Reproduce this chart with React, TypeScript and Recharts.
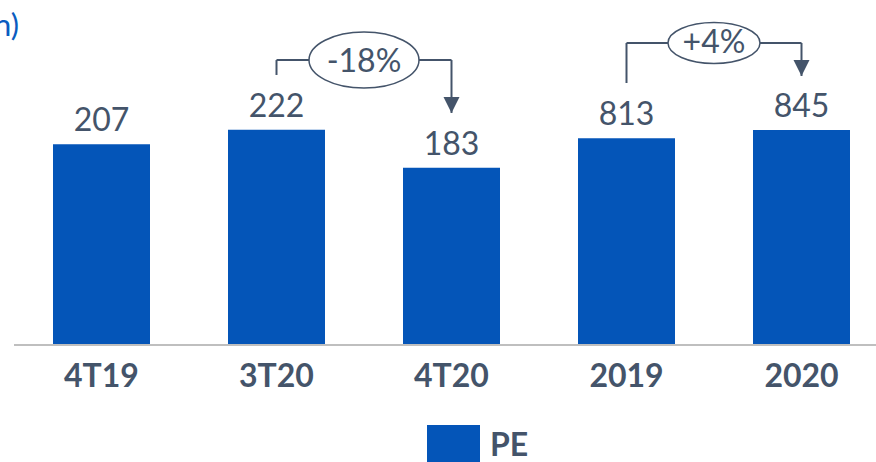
import React from 'react';
import { BarChart, Bar, XAxis, YAxis, LabelList, ReferenceLine, Legend } from 'recharts';

const categories = ['4T19', '3T20', '4T20', '2019', '2020'];
const quarterly = [207, 222, 183, null, null];
const annual = [null, null, null, 813, 845];
const changes = ['-18%', '+4%'];
const seriesName = 'PE';

const BLUE = '#0455b8';
const SLATE = '#44546a';
const FONT = 'Lato, "Open Sans", sans-serif';

const data = categories.map((c, i) => ({ cat: c, q: quarterly[i], a: annual[i] }));

const ValueLabel = (props: any) => {
  const { x, y, width, value } = props;
  if (value == null) return null;
  return (
    <text x={x + width / 2} y={y - 13} textAnchor="middle" fill={SLATE} fontSize={32} fontFamily={FONT}>
      {value}
    </text>
  );
};

// ellipse with the change text, centred on a horizontal bracket segment
const makeBubble = (text: string, rx: number, ry: number, dy: number) => (props: any) => {
  const vb = props.viewBox;
  if (!vb) return null;
  const cx = vb.x + vb.width / 2;
  const cy = vb.y;
  return (
    <g>
      <ellipse cx={cx} cy={cy} rx={rx} ry={ry} fill="#fff" stroke={SLATE} strokeWidth={1.5} />
      <text x={cx} y={cy + dy} textAnchor="middle" fill={SLATE} fontSize={32} fontFamily={FONT}>
        {text}
      </text>
    </g>
  );
};

// arrow head at the lower end of a vertical segment
const ArrowHead = (props: any) => {
  const vb = props.viewBox;
  if (!vb) return null;
  const x = vb.x;
  const y = vb.y + vb.height;
  return <path d={`M${x - 8},${y - 16} L${x + 8},${y - 16} L${x},${y} Z`} fill={SLATE} />;
};

const LegendContent = () => (
  <div style={{ display: 'flex', alignItems: 'center', height: 37, paddingLeft: 413 }}>
    <div style={{ width: 53, height: 37, background: BLUE }} />
    <span style={{ marginLeft: 10, fontFamily: FONT, fontWeight: 700, fontSize: 32, color: SLATE }}>{seriesName}</span>
  </div>
);

export default function App() {
  const line = { stroke: SLATE, strokeWidth: 2, ifOverflow: 'visible' as const };
  return (
    <div style={{ position: 'fixed', left: 0, top: 0, width: 876, height: 462, overflow: 'hidden', background: '#fff' }}>
      <div
        style={{
          position: 'absolute',
          right: 857,
          top: 5,
          whiteSpace: 'nowrap',
          fontFamily: FONT,
          fontSize: 31,
          color: '#0a5cc0',
        }}
      >
        (R$ mn)
      </div>
      <BarChart width={890} height={462} data={data} margin={{ top: 30, right: 1, left: 14, bottom: 0 }} barGap={-97}>
        <XAxis
          dataKey="cat"
          height={80}
          axisLine={{ stroke: '#bfbfbf', strokeWidth: 2 }}
          tickLine={false}
          tickSize={0}
          tickMargin={19}
          tick={{ fill: SLATE, fontSize: 32, fontWeight: 700, fontFamily: FONT }}
          interval={0}
        />
        <YAxis yAxisId="q" hide domain={[0, 325]} />
        <YAxis yAxisId="a" hide domain={[0, 1238]} />
        <Bar yAxisId="q" dataKey="q" name={seriesName} fill={BLUE} barSize={97} isAnimationActive={false}>
          <LabelList dataKey="q" content={ValueLabel} />
        </Bar>
        <Bar yAxisId="a" dataKey="a" name={seriesName} fill={BLUE} barSize={97} isAnimationActive={false}>
          <LabelList dataKey="a" content={ValueLabel} />
        </Bar>

        {/* 3T20 -> 4T20 bracket */}
        <ReferenceLine yAxisId="q" segment={[{ x: '3T20', y: 278.6 }, { x: '3T20', y: 294 }]} {...line} />
        <ReferenceLine
          yAxisId="q"
          segment={[{ x: '3T20', y: 294 }, { x: '4T20', y: 294 }]}
          {...line}
          label={makeBubble(changes[0], 55, 28, 12)}
        />
        <ReferenceLine
          yAxisId="q"
          segment={[{ x: '4T20', y: 294 }, { x: '4T20', y: 239.4 }]}
          {...line}
          label={ArrowHead}
        />

        {/* 2019 -> 2020 bracket */}
        <ReferenceLine yAxisId="a" segment={[{ x: '2019', y: 1029.7 }, { x: '2019', y: 1186.9 }]} {...line} />
        <ReferenceLine
          yAxisId="a"
          segment={[{ x: '2019', y: 1186.9 }, { x: '2020', y: 1186.9 }]}
          {...line}
          label={makeBubble(changes[1], 46, 20.5, 10)}
        />
        <ReferenceLine
          yAxisId="a"
          segment={[{ x: '2020', y: 1186.9 }, { x: '2020', y: 1057.2 }]}
          {...line}
          label={ArrowHead}
        />

        <Legend verticalAlign="bottom" content={LegendContent} />
      </BarChart>
    </div>
  );
}
